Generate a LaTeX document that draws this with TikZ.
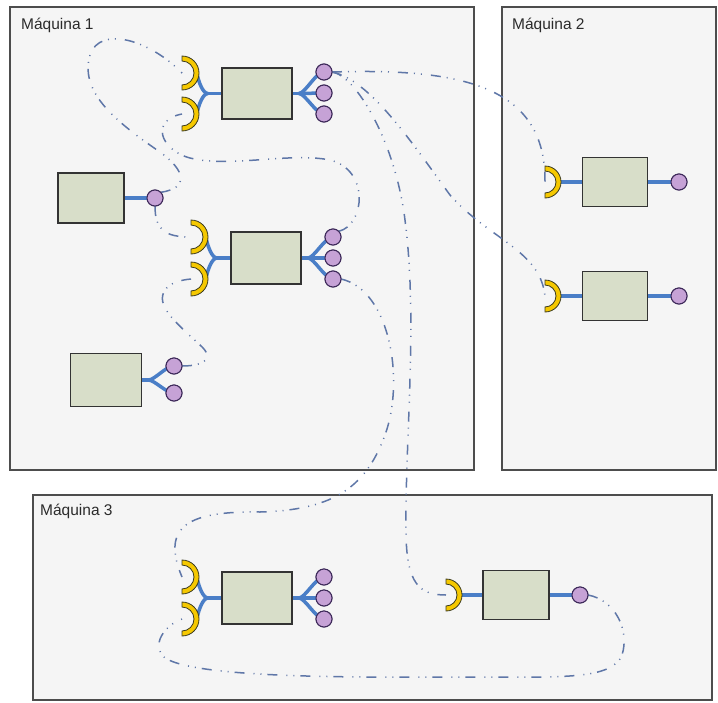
\documentclass[tikz,border=0pt]{standalone}
\usepackage{fontspec}
\setmainfont{Liberation Sans}
\usetikzlibrary{calc}
\definecolor{boxfill}{HTML}{F5F5F5}
\definecolor{boxline}{HTML}{4D4D4D}
\definecolor{compfill}{HTML}{D8DEC9}
\definecolor{compline}{HTML}{333333}
\definecolor{wireblue}{HTML}{4A7EC7}
\definecolor{linkblue}{HTML}{5F77A8}
\definecolor{sockfill}{HTML}{F5C800}
\definecolor{sockline}{HTML}{3A3A20}
\definecolor{portfill}{HTML}{C6A2D6}
\definecolor{portline}{HTML}{3E2A5A}
\definecolor{txt}{HTML}{2B2B2B}
\begin{document}
\begin{tikzpicture}[x=1pt,y=-1pt,
  machine/.style={draw=boxline, fill=boxfill, line width=1.5pt, inner sep=0pt, outer sep=0pt},
  mlabel/.style={text=txt, font=\fontsize{15.5}{18}\selectfont, inner sep=0pt},
  comp/.style={draw=compline, fill=compfill, line width=1.4pt, inner sep=0pt, outer sep=0pt},
  port/.style={circle, draw=portline, fill=portfill, line width=1pt, minimum size=16pt, inner sep=0pt, outer sep=0pt},
  wire/.style={draw=wireblue, line width=3.5pt},
  link/.style={draw=linkblue, line width=1.5pt, dash pattern=on 10pt off 6pt on 1pt off 6pt on 1pt off 9pt},
  pics/bigsock/.style={code={\filldraw[fill=sockfill, draw=sockline, line width=0.8pt]
     (0pt,17pt) arc[start angle=90, end angle=-90, radius=17pt] -- (0pt,-12pt)
     arc[start angle=-90, end angle=90, radius=12pt] -- cycle;}},
  pics/smallsock/.style={code={\filldraw[fill=sockfill, draw=sockline, line width=0.8pt]
     (0pt,16pt) arc[start angle=90, end angle=-90, radius=16pt] -- (0pt,-11pt)
     arc[start angle=-90, end angle=90, radius=11pt] -- cycle;}}
]
\useasboundingbox (0,0) rectangle (718,702);
\fill[white] (0,0) rectangle (718,702);

% machines
\node[machine, anchor=north west, minimum width=464pt, minimum height=463pt] (m1) at (10,7) {};
\node[machine, anchor=north west, minimum width=214pt, minimum height=463pt] (m2) at (502,7) {};
\node[machine, anchor=north west, minimum width=679pt, minimum height=205pt] (m3) at (33,495) {};
\node[mlabel, anchor=base west] (l1) at (21,29) {Máquina 1};
\node[mlabel, anchor=base west] (l2) at (512,29) {Máquina 2};
\node[mlabel, anchor=base west] (l3) at (40,515) {Máquina 3};

% socket coordinates
\coordinate (sA1) at (182,73);  \coordinate (sA2) at (182,114);
\coordinate (sC1) at (191,237); \coordinate (sC2) at (191,279);
\coordinate (sG1) at (182,577); \coordinate (sG2) at (182,619);
\coordinate (sE1) at (545,182); \coordinate (sF1) at (545,296);
\coordinate (sH1) at (446,595);

% components
\node[comp, minimum width=70pt, minimum height=51pt] (A) at (257,93.5) {};
\node[comp, minimum width=66pt, minimum height=50pt] (B) at (91,198) {};
\node[comp, minimum width=70pt, minimum height=52pt] (C) at (266,258) {};
\node[comp, minimum width=71pt, minimum height=53pt] (D) at (106,380) {};
\node[comp, minimum width=65pt, minimum height=49pt] (E) at (615,182) {};
\node[comp, minimum width=65pt, minimum height=49pt] (F) at (615,296) {};
\node[comp, minimum width=70pt, minimum height=52pt] (G) at (257,598) {};
\node[comp, minimum width=66pt, minimum height=49pt] (H) at (516,595) {};

\node[port] (pA1) at (324,72) {};
\node[port] (pA2) at (324,93) {};
\node[port] (pA3) at (324,114) {};
\node[port] (pB) at (155,198) {};
\node[port] (pC1) at (333,237) {};
\node[port] (pC2) at (333,258) {};
\node[port] (pC3) at (333,279) {};
\node[port] (pD1) at (174,366) {};
\node[port] (pD2) at (174,393) {};
\node[port] (pE) at (679,182) {};
\node[port] (pF) at (679,296) {};
\node[port] (pG1) at (324,577) {};
\node[port] (pG2) at (324,598) {};
\node[port] (pG3) at (324,619) {};
\node[port] (pH) at (580,595) {};

% dashed links
\draw[link] (pA1.east) .. controls (460,68) and (546,85) .. (sE1);
\draw[link] (pA1.east) .. controls (370,80) and (410,140) .. (450,195) .. controls (490,240) and (540,250) .. (sF1);
\draw[link] (pA1.east) .. controls (355,75) and (395,140) .. (405,220) .. controls (418,320) and (405,440) .. (406,530) .. controls (406,585) and (420,595) .. (sH1);
\draw[link] (pB.north east) .. controls (190,188) and (185,170) .. (160,152) .. controls (110,118) and (80,90) .. (90,55) .. controls (100,25) and (150,40) .. (sA1);
\draw[link] (pB.south) .. controls (155,230) and (165,237) .. (sC1);
\draw[link] (pC1.north east) .. controls (365,225) and (370,170) .. (330,160) .. controls (290,152) and (230,168) .. (190,158) .. controls (160,150) and (150,120) .. (sA2);
\draw[link] (pD1.east) .. controls (205,366) and (215,358) .. (200,345) .. controls (175,322) and (155,305) .. (165,290) .. controls (170,283) and (180,280) .. (sC2);
\draw[link] (pC3.east) .. controls (390,290) and (405,380) .. (385,435) .. controls (365,490) and (330,510) .. (260,512) .. controls (190,511) and (160,525) .. (sG1);
\draw[link] (pH.east) .. controls (615,600) and (630,630) .. (622,655) .. controls (612,680) and (560,677) .. (480,677) .. controls (380,677) and (200,680) .. (165,658) .. controls (150,645) and (165,625) .. (sG2);

% wires: forks to sockets
\foreach \n/\s/\t in {A/sA1/sA2, C/sC1/sC2, G/sG1/sG2}{
  \draw[wire] (\n.west) -- ++(-14,0) coordinate (f\n);
  \draw[wire] (f\n) .. controls +(-5,0) and +(2,9) .. ($(\s)+(15,1)$);
  \draw[wire] (f\n) .. controls +(-5,0) and +(2,-9) .. ($(\t)+(15,-1)$);
}
% wires: fans to ports
\foreach \n in {A,C,G}{
  \draw[wire] (\n.east) -- ++(7,0) coordinate (g\n);
  \draw[wire] (g\n) .. controls +(6,0) and +(-8,0) .. (p\n1.center);
  \draw[wire] (g\n) -- (p\n2.center);
  \draw[wire] (g\n) .. controls +(6,0) and +(-8,0) .. (p\n3.center);
}
\draw[wire] (D.east) -- ++(7,0) coordinate (gD);
\draw[wire] (gD) .. controls +(6,0) and +(-8,0) .. (pD1.center);
\draw[wire] (gD) .. controls +(6,0) and +(-8,0) .. (pD2.center);
\draw[wire] (B.east) -- (pB.center);
\foreach \n/\s in {E/sE1, F/sF1, H/sH1}{
  \draw[wire] ($(\s)+(14,0)$) -- (\n.west);
  \draw[wire] (\n.east) -- (p\n.center);
}

% redraw components over wire ends
\foreach \n in {A,B,C,D,E,F,G,H}{
  \path[comp] (\n.south west) rectangle (\n.north east);
}
\foreach \s in {sA1,sA2,sC1,sC2,sG1,sG2}{ \pic at (\s) {bigsock}; }
\foreach \s in {sE1,sF1,sH1}{ \pic at (\s) {smallsock}; }
\foreach \p in {pA1,pA2,pA3,pB,pC1,pC2,pC3,pD1,pD2,pE,pF,pG1,pG2,pG3,pH}{
  \path[port] (\p.center) circle[radius=8pt];
}
\end{tikzpicture}
\end{document}
